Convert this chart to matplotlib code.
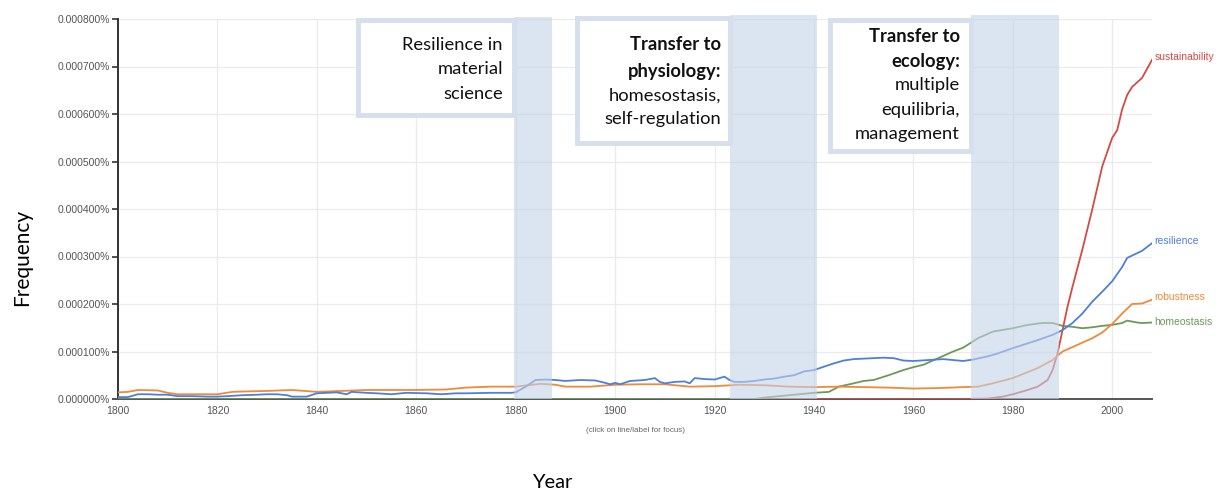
import matplotlib
matplotlib.use("Agg")
import matplotlib.pyplot as plt
import numpy as np
from matplotlib.patches import Rectangle

# ---------------- data (units of 0.0001 %) ----------------
res_years = [1800,1802,1804,1806,1808,1810,1812,1815,1818,1820,1822,1825,1828,1830,1832,1834,1835,1838,1840,1842,1844,1846,1847,1850,1852,1855,1858,1862,1865,1868,1870,1875,1879,1880,1882,1884,1886,1888,1890,1893,1896,1898,1899,1900,1901,1903,1906,1908,1909,1910,1912,1914,1915,1916,1918,1920,1922,1923,1924,1926,1928,1930,1932,1934,1936,1938,1940,1942,1944,1946,1948,1950,1952,1954,1956,1958,1960,1963,1966,1968,1970,1972,1975,1977,1980,1985,1988,1990,1992,1994,1996,1998,2000,2002,2003,2004,2006,2008]
resilience = [0.04,0.04,0.10,0.10,0.09,0.09,0.06,0.06,0.05,0.05,0.06,0.08,0.09,0.10,0.10,0.08,0.05,0.05,0.12,0.13,0.14,0.10,0.15,0.13,0.12,0.10,0.13,0.12,0.10,0.12,0.12,0.13,0.13,0.14,0.26,0.40,0.41,0.40,0.38,0.40,0.39,0.34,0.31,0.34,0.31,0.38,0.40,0.44,0.36,0.33,0.36,0.37,0.33,0.44,0.42,0.41,0.47,0.40,0.36,0.36,0.38,0.41,0.43,0.47,0.50,0.58,0.61,0.68,0.75,0.81,0.84,0.85,0.86,0.87,0.86,0.81,0.80,0.82,0.84,0.82,0.80,0.83,0.90,0.96,1.07,1.24,1.35,1.45,1.60,1.80,2.05,2.26,2.48,2.78,2.97,3.02,3.12,3.28]

rob_years = [1800,1802,1804,1808,1810,1812,1816,1820,1823,1826,1830,1835,1840,1845,1850,1855,1860,1866,1870,1875,1880,1885,1888,1890,1895,1900,1905,1910,1915,1920,1925,1930,1935,1940,1945,1950,1955,1960,1965,1970,1973,1976,1980,1985,1988,1990,1993,1996,1998,2000,2002,2004,2006,2008]
robustness = [0.14,0.15,0.19,0.18,0.13,0.10,0.10,0.10,0.15,0.16,0.17,0.19,0.15,0.17,0.19,0.19,0.19,0.20,0.24,0.26,0.26,0.32,0.30,0.26,0.26,0.30,0.31,0.31,0.26,0.27,0.30,0.29,0.26,0.25,0.26,0.25,0.24,0.22,0.23,0.25,0.26,0.33,0.44,0.65,0.82,1.00,1.14,1.28,1.40,1.58,1.80,2.00,2.01,2.09]

hom_years = [1800,1928,1930,1935,1940,1943,1945,1948,1950,1952,1955,1958,1960,1962,1965,1968,1970,1973,1976,1980,1983,1986,1988,1990,1992,1994,1996,1998,2000,2002,2003,2005,2006,2008]
homeostasis = [0.0,0.0,0.03,0.08,0.13,0.15,0.26,0.33,0.38,0.40,0.50,0.61,0.67,0.72,0.86,1.00,1.08,1.28,1.42,1.49,1.56,1.60,1.60,1.54,1.52,1.49,1.51,1.54,1.56,1.60,1.65,1.61,1.60,1.61]

sus_years = [1930,1970,1975,1978,1980,1983,1985,1987,1988,1989,1990,1991,1992,1994,1996,1998,2000,2001,2002,2003,2004,2006,2007,2008]
sustainability = [0.0,0.0,0.01,0.05,0.10,0.19,0.26,0.40,0.61,0.96,1.45,1.94,2.36,3.15,4.00,4.90,5.50,5.66,6.10,6.40,6.57,6.76,6.95,7.14]

series_names = ["sustainability", "resilience", "robustness", "homeostasis"]
y_ticks = [0, 1, 2, 3, 4, 5, 6, 7, 8]
y_tick_labels = ["0.000000%", "0.000100%", "0.000200%", "0.000300%", "0.000400%",
                 "0.000500%", "0.000600%", "0.000700%", "0.000800%"]
x_ticks = [1800, 1820, 1840, 1860, 1880, 1900, 1920, 1940, 1960, 1980, 2000]

bands = [(1879.6, 1887.4, 8.04), (1923.2, 1940.7, 8.08), (1971.5, 1989.3, 8.08)]
boxes = [(1848.2, 1879.6, 5.98, 7.98), (1892.3, 1923.2, 5.39, 8.02), (1943.3, 1971.5, 5.22, 7.98)]

# ---------------- figure ----------------
W, H = 1221, 492
fig = plt.figure(figsize=(W / 100, H / 100), dpi=100)
ax = fig.add_axes([118 / W, 1 - 399 / H, (1152 - 118) / W, (399 - 19) / H])
ax.set_xlim(1800, 2008)
ax.set_ylim(0, 8)

colors = {"sustainability": "#d44a45", "resilience": "#4d7fdb",
          "robustness": "#ee8a3a", "homeostasis": "#6c9a55"}

ax.plot(hom_years, homeostasis, color=colors["homeostasis"], lw=1.3, zorder=3)
ax.plot(sus_years, sustainability, color=colors["sustainability"], lw=1.3, zorder=3)
ax.plot(rob_years, robustness, color=colors["robustness"], lw=1.3, zorder=3)
ax.plot(res_years, resilience, color=colors["resilience"], lw=1.3, zorder=3)

# end labels
ends = {"sustainability": sustainability[-1], "resilience": resilience[-1],
        "robustness": robustness[-1], "homeostasis": homeostasis[-1]}
offsets = {"sustainability": 0.06, "resilience": 0.05, "robustness": 0.06, "homeostasis": 0.02}
for name in series_names:
    ax.text(2008.5, ends[name] + offsets[name], name, color=colors[name], fontsize=7.5,
            family="Liberation Sans", va="center", ha="left", clip_on=False)

# shaded bands (overlay)
for x0, x1, top in bands:
    ax.add_patch(Rectangle((x0, 0), x1 - x0, top, facecolor="#c3d3e8", alpha=0.6,
                           edgecolor="none", zorder=5, clip_on=False))

# text boxes
for x0, x1, y0, y1 in boxes:
    ax.add_patch(Rectangle((x0, y0), x1 - x0, y1 - y0, facecolor="white",
                           edgecolor="#d5dfed", lw=3.5, zorder=6, clip_on=False))

# grid
for v in y_ticks[1:]:
    ax.axhline(v, color="#ebebeb", lw=0.9, zorder=0)
for x in x_ticks:
    ax.axvline(x, color="#ebebeb", lw=0.9, zorder=0)

ax.set_yticks(y_ticks)
ax.set_yticklabels(y_tick_labels)
ax.set_xticks(x_ticks)
ax.set_xticklabels([str(x) for x in x_ticks])
ax.tick_params(axis="y", length=4, width=1.2, color="#333333", labelsize=7.5,
               labelcolor="#555555", pad=2)
ax.tick_params(axis="x", length=0, labelsize=7.5, labelcolor="#555555", pad=5)
for lab in ax.get_xticklabels() + ax.get_yticklabels():
    lab.set_family("Liberation Sans")
for s in ["top", "right"]:
    ax.spines[s].set_visible(False)
ax.spines["left"].set_color("#333333")
ax.spines["left"].set_linewidth(1.4)
ax.spines["bottom"].set_color("#555555")
ax.spines["bottom"].set_linewidth(1.4)

fig.text(635 / W, 1 - 430 / H, "(click on line/label for focus)", fontsize=5.75,
         color="#666666", ha="center", va="center", family="Liberation Sans")

fig.text(22 / W, 1 - 257 / H, "Frequency", rotation=90, fontsize=15, ha="center",
         va="center", family="Lato", color="black")
fig.text(552 / W, 1 - 483 / H, "Year", fontsize=14.5, ha="center", va="center",
         family="Lato", color="black")

FS = 13.2
def box_lines(xr, lines):
    for yc, txt, bold in lines:
        fig.text(xr / W, 1 - yc / H, txt, fontsize=FS, ha="right", va="center",
                 family="Lato", fontweight="bold" if bold else "normal",
                 color="#111111", zorder=10)

box_lines(503, [(45, "Resilience in", False), (69, "material", False), (94, "science", False)])
box_lines(721, [(45, "Transfer to", True), (71, "physiology:", True),
                (96, "homesostasis,", False), (119, "self-regulation", False)])
box_lines(960, [(37, "Transfer to", True), (61, "ecology:", True), (85, "multiple", False),
                (110, "equilibria,", False), (134, "management", False)])

fig.savefig("out.png", dpi=100)
